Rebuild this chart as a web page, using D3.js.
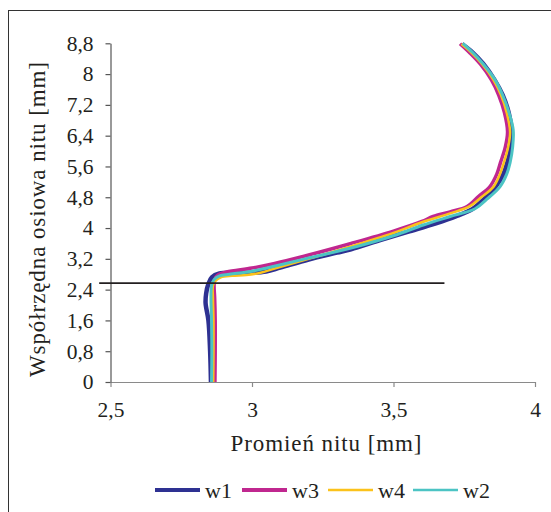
<!DOCTYPE html>
<html>
<head>
<meta charset="utf-8">
<script src="https://cdn.jsdelivr.net/npm/d3@7"></script>
<style>
  html, body { margin: 0; padding: 0; background: #fff; }
  svg { display: block; }
  text { font-family: "Liberation Serif", "Times New Roman", serif; fill: #231f20; }
</style>
</head>
<body>
<svg id="chart" width="551" height="512"></svg>
<script>
// Rivet profile: radius [mm] vs. axial coordinate [mm] for four variants
const seriesNames = ["w1", "w3", "w4", "w2"];
const seriesColors = ["#2e3192", "#c0278f", "#fbc21b", "#4cc4c4"];
const seriesWidths = [4.5, 3.5, 2.5, 3];

const w1 = [[2.855,0],[2.852,0.8],[2.846,1.6],[2.836,2.05],[2.838,2.3],[2.846,2.55],[2.858,2.72],[2.885,2.82],[2.94,2.84],[3.0,2.84],[3.05,2.87],[3.1,2.97],[3.2,3.18],[3.3,3.36],[3.35,3.45],[3.45,3.68],[3.55,3.9],[3.65,4.12],[3.72,4.3],[3.78,4.5],[3.82,4.75],[3.86,5.07],[3.888,5.4],[3.902,5.7],[3.915,6.1],[3.918,6.5],[3.907,7.0],[3.886,7.45],[3.857,7.85],[3.817,8.27],[3.78,8.56],[3.742,8.78]];
const w3 = [[2.869,0],[2.87,0.8],[2.87,1.6],[2.868,2.2],[2.866,2.5],[2.868,2.66],[2.88,2.78],[2.91,2.86],[3.0,2.96],[3.08,3.08],[3.2,3.3],[3.35,3.6],[3.5,3.92],[3.6,4.17],[3.64,4.3],[3.7,4.42],[3.76,4.56],[3.8,4.82],[3.84,5.07],[3.865,5.4],[3.878,5.7],[3.895,6.1],[3.903,6.5],[3.892,7.0],[3.872,7.45],[3.846,7.85],[3.808,8.25],[3.77,8.55],[3.735,8.79]];
const w4 = [[2.863,0],[2.864,0.8],[2.864,1.6],[2.862,2.2],[2.862,2.5],[2.87,2.62],[2.89,2.72],[2.93,2.76],[2.98,2.78],[3.03,2.84],[3.08,2.95],[3.2,3.2],[3.35,3.52],[3.5,3.87],[3.6,4.15],[3.7,4.38],[3.77,4.57],[3.81,4.8],[3.853,5.07],[3.876,5.4],[3.89,5.7],[3.905,6.1],[3.912,6.5],[3.9,7.0],[3.88,7.45],[3.853,7.85],[3.812,8.27],[3.775,8.56],[3.74,8.78]];
const w2 = [[2.857,0],[2.858,0.8],[2.857,1.6],[2.855,2.2],[2.857,2.5],[2.866,2.66],[2.885,2.76],[2.92,2.8],[3.0,2.88],[3.075,3.0],[3.2,3.22],[3.35,3.48],[3.5,3.8],[3.605,4.08],[3.7,4.3],[3.788,4.5],[3.83,4.75],[3.876,5.07],[3.9,5.4],[3.912,5.7],[3.921,6.1],[3.923,6.55],[3.909,6.98],[3.886,7.45],[3.859,7.85],[3.815,8.28],[3.78,8.56],[3.745,8.8]];
const seriesData = [w1, w3, w4, w2];

// Reference level line (axial coordinate of the sheet interface)
const refLine = [[2.46, 2.57], [3.68, 2.57]];

const xTicks = [2.5, 3, 3.5, 4];
const yTicks = [0, 0.8, 1.6, 2.4, 3.2, 4, 4.8, 5.6, 6.4, 7.2, 8, 8.8];
const xTitle = "Promień nitu [mm]";
const yTitle = "Współrzędna osiowa nitu [mm]";

const svg = d3.select("#chart");
const fmt = d => String(d).replace(".", ",");

// Outer frame
svg.append("rect")
  .attr("x", 8.5).attr("y", 10.5)
  .attr("width", 560).attr("height", 520)
  .attr("fill", "#fff").attr("stroke", "#333").attr("stroke-width", 1);

const x = d3.scaleLinear().domain([2.5, 4]).range([110.5, 535]);
const y = d3.scaleLinear().domain([0, 8.8]).range([382, 43.3]);

const gx = svg.append("g").attr("transform", `translate(0,${y(0)})`)
  .call(d3.axisBottom(x).tickValues(xTicks).tickFormat(fmt).tickSize(5).tickSizeOuter(0).tickPadding(15));
const gy = svg.append("g").attr("transform", `translate(${x(2.5)},0)`)
  .call(d3.axisLeft(y).tickValues(yTicks).tickFormat(fmt).tickSize(5).tickSizeOuter(0).tickPadding(12));

[[gx, "#8a8a8a"], [gy, "#555"]].forEach(([g, c]) => {
  g.select(".domain").attr("stroke", c).attr("stroke-width", 1.2);
  g.selectAll(".tick line").attr("stroke", c).attr("stroke-width", 1.2);
  g.selectAll(".tick text").attr("font-size", 21.5).attr("fill", "#231f20");
});

// Profile curves
const line = d3.line()
  .x(d => x(d[0])).y(d => y(d[1]))
  .curve(d3.curveCatmullRom.alpha(0.5));

svg.append("g").selectAll("path")
  .data(seriesData)
  .join("path")
  .attr("d", line)
  .attr("fill", "none")
  .attr("stroke", (d, i) => seriesColors[i])
  .attr("stroke-width", (d, i) => seriesWidths[i])
  .attr("stroke-linejoin", "round")
  .attr("stroke-linecap", "butt");

// Horizontal reference line
svg.append("path")
  .attr("d", d3.line().x(d => x(d[0])).y(d => y(d[1]))(refLine))
  .attr("fill", "none").attr("stroke", "#231f20").attr("stroke-width", 1.6);

// Axis titles
svg.append("text")
  .attr("x", 326).attr("y", 451)
  .attr("text-anchor", "middle")
  .attr("font-size", 23)
  .attr("textLength", 191).attr("lengthAdjust", "spacing")
  .text(xTitle);

svg.append("text")
  .attr("transform", "translate(45,219.5) rotate(-90)")
  .attr("text-anchor", "middle")
  .attr("font-size", 23)
  .attr("textLength", 315).attr("lengthAdjust", "spacing")
  .text(yTitle);

// Legend
const legendX = [155, 242, 328, 413];
const lg = svg.append("g");
seriesNames.forEach((name, i) => {
  lg.append("line")
    .attr("x1", legendX[i]).attr("x2", legendX[i] + 45)
    .attr("y1", 490).attr("y2", 490)
    .attr("stroke", seriesColors[i])
    .attr("stroke-width", i < 2 ? 4 : 2.5);
  lg.append("text")
    .attr("x", legendX[i] + 50).attr("y", 498)
    .attr("font-size", 22)
    .text(name);
});
</script>
</body>
</html>
